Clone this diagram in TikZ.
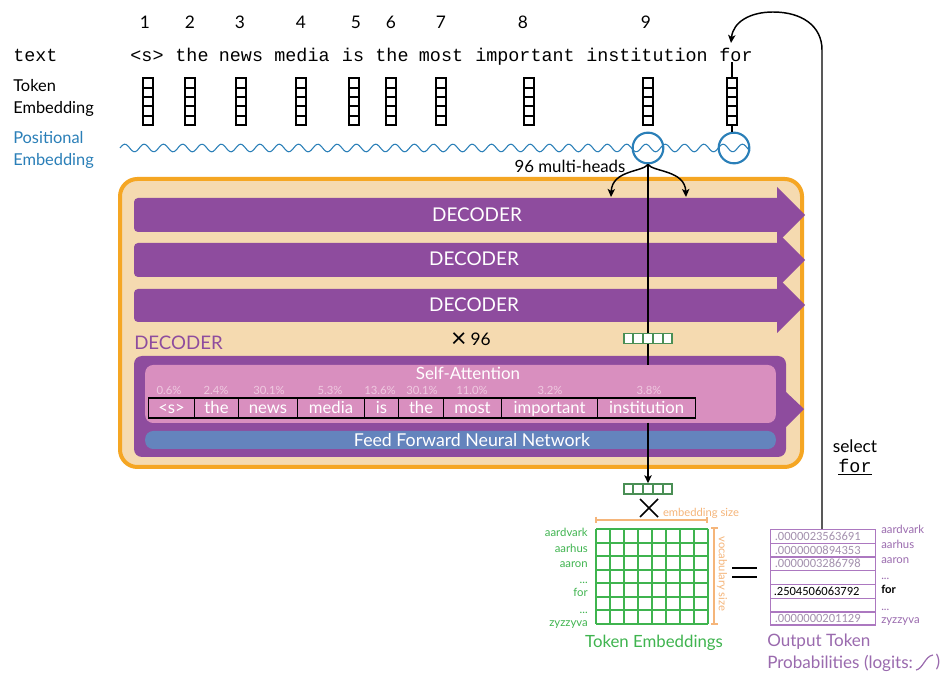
\documentclass[tikz,border=0pt]{standalone}
\usepackage{fontspec}
\setmainfont{Lato}
\setmonofont{Liberation Mono}
\newfontfamily\narrowdigits{Carlito}
\usetikzlibrary{arrows.meta,calc}
\definecolor{orangeB}{HTML}{F5A623}
\definecolor{sand}{HTML}{F5DAB0}
\definecolor{purp}{HTML}{8E4C9E}
\definecolor{pinkP}{HTML}{D98FBF}
\definecolor{blueF}{HTML}{6484BD}
\definecolor{blueW}{HTML}{2A7FB8}
\definecolor{greenG}{HTML}{3FB44F}
\definecolor{greenD}{HTML}{4A8F55}
\definecolor{orangeL}{HTML}{F5B57A}
\definecolor{purpL}{HTML}{AC78C0}
\definecolor{purpT}{HTML}{9A6AAE}
\definecolor{pct}{HTML}{EFC9E0}
\definecolor{numg}{HTML}{A491AE}
\newcommand{\fs}[1]{\fontsize{#1}{#1}\selectfont}
\newcommand{\fsb}[2]{\fontsize{#1}{#2}\selectfont}
\newcommand{\tdots}{...}
\tikzset{
  x=0.75pt,y=-0.75pt,
  num/.style={inner sep=0pt,text=black,font=\fs{13}},
  mono/.style={inner sep=0pt,text=black,font=\ttfamily\fs{13.8},anchor=base},
  tokbox/.style={draw=black,line width=0.9pt,minimum width=7.5pt,minimum height=35.25pt,inner sep=0pt},
  tokline/.style={draw=black,line width=0.9pt},
  posring/.style={circle,draw=blueW,line width=1.6pt,minimum size=23pt,inner sep=0pt},
  wave/.style={draw=blueW,line width=0.8pt},
  conn/.style={draw=black,line width=1.1pt},
  tip/.style={-{Stealth[length=6pt,width=5.5pt,inset=1.5pt]}},
  decarrow/.style={fill=purp,draw=none},
  declbl/.style={inner sep=0pt,text=white,font=\fs{14.2}},
  pctl/.style={inner sep=0pt,text=pct,font=\fs{8.5}},
  wcell/.style={draw=black,line width=0.8pt,inner sep=0pt,text=white,font=\fs{12.5},minimum height=15pt,anchor=west,text height=11pt,text depth=2pt},
  gridl/.style={draw=greenG,line width=1.15pt},
  glab/.style={inner sep=0pt,anchor=east,text=greenG,font=\fs{8.5},text height=6.5pt,text depth=2pt},
  plab/.style={inner sep=0pt,anchor=west,text=purpT,font=\fs{8.5},text height=6.5pt,text depth=2pt},
  pcell/.style={draw=purpL,line width=1pt,minimum width=78.75pt,inner sep=0pt,anchor=north west},
  pval/.style={inner sep=0pt,anchor=west,text=numg,font=\narrowdigits\fs{9.4}},
  bracket/.style={draw=orangeL,line width=0.9pt},
  emb/.style={draw=greenD,line width=1.1pt,minimum width=36pt,minimum height=7.5pt,inner sep=0pt},
}
\begin{document}
\begin{tikzpicture}
\path[use as bounding box,fill=white] (0,0) rectangle (943,673);

% position numbers
\foreach \x/\n in {145/1,190/2,240/3,301/4,356/5,391/6,441/7,523/8,646/9}
  \node[num] (n\n) at (\x,22) {\n};

% words
\node[mono,anchor=base west] (textlbl) at (13,62) {text};
\foreach \x/\w/\k in {147/{<s>}/1,192/the/2,241/news/3,302/media/4,353/is/5,392/the/6,441/most/7,525/important/8,647/institution/9,736/for/10}
  \node[mono] (w\k) at (\x,62) {\w};

% row labels
\node[inner sep=0pt,text=black,anchor=west,align=left,font=\fsb{12.3}{16.5}] (tokemb) at (13,98) {Token\\Embedding};
\node[inner sep=0pt,anchor=west,align=left,text=blueW,font=\fsb{12.3}{16.5}] (posemb) at (13,150) {Positional\\Embedding};

% token embedding columns
\foreach \x/\k in {148/1,190/2,241/3,301/4,354/5,391/6,441/7,529/8,648/9,732/10}{
  \node[tokbox] (col\k) at (\x,101.5) {};
  \foreach \yy in {88,97,106,116}
    \draw[tokline] (\x-5,\yy) -- (\x+5,\yy);
}

% positional wave and rings
\draw[wave] plot[domain=120:750,samples=420,smooth] (\x,{148-3.8*sin((\x-120)/19.3*360)});
\node[posring] (ring9) at (648,148) {};
\node[posring] (ring10) at (734,148) {};
\draw[tokline] (w10.south -| col10) -- (col10.north);
\draw[tokline] (col10.south) -- (col10.south |- ring10.north);

% outer decoder frame
\node[draw=orangeB,fill=sand,line width=3pt,rounded corners=13pt,minimum width=511.5pt,minimum height=216pt,inner sep=0pt] (frame) at (461,323) {};

% stacked decoder arrows
\fill[decarrow] [rounded corners=3pt] (777,198) -- (134,198) -- (134,232) [sharp corners] -- (777,232) -- (777,243) -- (805,215) -- (777,187) -- cycle;
\fill[decarrow] [rounded corners=3pt] (777,243) -- (134,243) -- (134,277) [sharp corners] -- (777,277) -- (777,288) -- (805,260) -- (777,232) -- cycle;
\fill[decarrow] [rounded corners=3pt] (777,289) -- (134,289) -- (134,322) [sharp corners] -- (777,322) -- (777,333) -- (805,305) -- (777,277) -- cycle;
\node[declbl] (d1) at (477,215) {DECODER};
\node[declbl] (d2) at (474,259) {DECODER};
\node[declbl] (d3) at (474,305) {DECODER};

% expanded decoder
\node[inner sep=0pt,anchor=west,text=purp,font=\fs{14}] (dtitle) at (134,343) {DECODER};
\node[inner sep=0pt,font=\fs{13},text=black] (times96) at (471,340) {\raisebox{-1.6pt}{\fs{20}×}\hspace{3pt}96};
\fill[decarrow] [rounded corners=6pt] (786,392) -- (786,356) -- (134,356) -- (134,457) -- (786,457) [sharp corners] -- (786,427) -- (804,409) -- cycle;
\node[fill=pinkP,rounded corners=6pt,minimum width=473pt,minimum height=43.5pt,inner sep=0pt] (sa) at (460.5,394) {};
\node[fill=blueF,rounded corners=6pt,minimum width=473pt,minimum height=13.5pt,inner sep=0pt] (ff) at (460.5,440) {};
\node[declbl,font=\fs{12.7}] (satxt) at (468,373) {Self-Attention};
\node[declbl,font=\fs{13.3}] (fftxt) at (472,440) {Feed Forward Neural Network};

% attention words
\foreach \a/\b/\w/\k in {148/194/{<s>}/1,194/238/the/2,238/297/news/3,297/364/media/4,364/398/is/5,398/443/the/6,443/501/most/7,501/597/important/8,597/695/institution/9}{
  \pgfmathsetmacro{\cw}{(\b-\a)*0.75}
  \node[wcell,minimum width=\cw pt] (c\k) at (\a,408) {\w};
}
\foreach \x/\p/\k in {169/0.6/1,216/2.4/2,269/30.1/3,330/5.3/4,380/13.6/5,422/30.1/6,472/11.0/7,550/3.2/8,649/3.8/9}
  \node[pctl] (p\k) at (\x,390) {\p\%};

% attention connectors
\draw[conn] (ring9.south) -- (ring9.south |- sa.north);
\coordinate (hl) at (611,197);
\coordinate (hr) at (686,197);
\draw[conn,tip] (ring9.south) .. controls (643,172) and (612,170) .. (hl);
\draw[conn,tip] (ring9.south) .. controls (653,172) and (685,170) .. (hr);
\node[inner sep=0pt,font=\fs{12.6},text=black] (mh) at (570,166) {96 multi-heads};

\node[emb,fill=white] (q1) at (648,338.5) {};
\foreach \x in {633,643,653,663}
  \draw[draw=greenD,line width=1.1pt] (\x,333) -- (\x,344);

\node[emb,fill=white] (q2) at (648,489) {};
\foreach \x in {633,643,653,663}
  \draw[draw=greenD,line width=1.1pt] (\x,484) -- (\x,494);
\coordinate (dn) at ($(ring9.south |- c9.south)+(0,4)$);
\draw[conn,tip] (dn) -- (dn |- q2.north);

% multiply sign
\coordinate (xa) at (640,499);
\coordinate (xb) at (658,517);
\coordinate (xc) at (658,499);
\coordinate (xd) at (640,517);
\draw[draw=black,line width=1.1pt] (xa) -- (xb) (xc) -- (xd);

% embedding matrix
\foreach \gx in {596,610,624,638,652,666,680,694,708}
  \draw[gridl] (\gx,529) -- (\gx,624);
\foreach \gy in {529,543,556,570,583,597,610,624}
  \draw[gridl] (596,\gy) -- (708,\gy);
\foreach \y/\w/\k in {534/aardvark/1,549/aarhus/2,564/aaron/3,580/\tdots/4,593/for/5,610/\tdots/6,623/zyzzyva/7}
  \node[glab] (g\k) at (588,\y) {\w};
\node[inner sep=0pt,text=greenG,font=\fs{12.6}] (tetitle) at (654,643) {Token Embeddings};

% size brackets
\draw[bracket] (596,517) -- (596,523) (596,520) -- (707,520) (707,517) -- (707,523);
\draw[bracket] (711,528) -- (718,528) (714,528) -- (714,624) (711,624) -- (718,624);
\node[inner sep=0pt,text=orangeL,font=\fs{8.4}] (es) at (701,513) {embedding size};
\node[inner sep=0pt,text=orangeL,font=\fs{8.4},rotate=-90] (vs) at (722,574) {vocabulary size};

% equals
\draw[draw=black,line width=1pt] (732,568) -- (757,568) (732,577) -- (757,577);

% output table
\foreach \t/\h/\k in {529/13.6/1,542.6/13.6/2,556.2/13.6/3,569.8/14.2/4,584/13.6/5,597.6/13.6/6,611.2/13.2/7}{
  \pgfmathsetmacro{\ch}{\h*0.75}
  \node[pcell,minimum height=\ch pt] (o\k) at (769.5,\t) {};
}
\foreach \v/\k in {.0000023563691/1,.0000000894353/2,.0000003286798/3,.0000000201129/7}
  \node[pval] (v\k) at ([xshift=3.8pt]o\k.west) {\v};
\node[pval,text=black] (v5) at ([xshift=3pt]o5.west) {.2504506063792};
\foreach \y/\w/\k in {531/aardvark/1,546/aarhus/2,561/aaron/3,577/\tdots/4,607/\tdots/6,620/zyzzyva/7}
  \node[plab] (l\k) at (881,\y) {\w};
\node[plab,text=black,font=\bfseries\fs{8.5}] (l5) at (881,590) {for};
\node[inner sep=0pt,anchor=west,align=left,text=purpT,font=\fsb{12.8}{16.5}] (optitle) at (767,653) {Output Token\\Probabilities (logits:};
\draw[draw=purpT,line width=0.9pt] (916,670) .. controls (923,669) and (925,656) .. (933,655);
\node[inner sep=0pt,text=purpT,font=\fs{13}] (cparen) at (938,662) {)};

% selection loop
\node[inner sep=0pt,font=\fs{13},text=black] (sel) at (855,446) {select};
\node[inner sep=0pt,font=\ttfamily\fs{13.8},text=black] (selfor) at (855,467) {\underline{for}};
\coordinate (loopup) at (822,50);
\coordinate (looptop) at (773,12);
\coordinate (loopend) at (731,43);
\draw[conn,tip] (o1.north -| loopup) -- (loopup) .. controls (822,26) and (802,12) .. (looptop) .. controls (750,12) and (733,22) .. (loopend);
\end{tikzpicture}
\end{document}
